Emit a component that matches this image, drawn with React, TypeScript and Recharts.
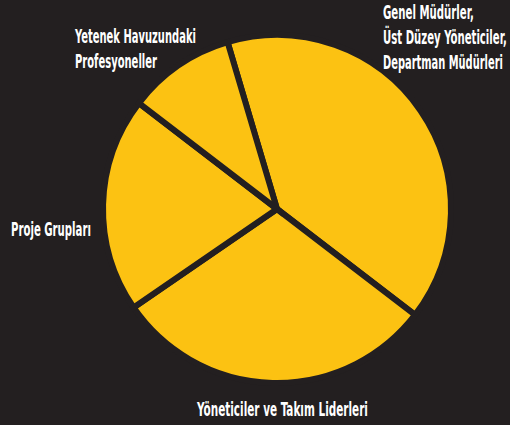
import { useLayoutEffect, useRef, useState } from "react";
import { Cell, Pie, PieChart } from "recharts";

const categories = [
  "Genel Müdürler, Üst Düzey Yöneticiler, Departman Müdürleri",
  "Yöneticiler ve Takım Liderleri",
  "Proje Grupları",
  "Yetenek Havuzundaki Profesyoneller",
];
const shares = [40, 30, 20, 10];

// label text lines per slice
const labelLines = [
  ["Genel Müdürler,", "Üst Düzey Yöneticiler,", "Departman Müdürleri"],
  ["Yöneticiler ve Takım Liderleri"],
  ["Proje Grupları"],
  ["Yetenek Havuzundaki", "Profesyoneller"],
];

const BG = "#231f20";
const YELLOW = "#fcc212";
const WIDTH = 510;
const HEIGHT = 425;

// where each label block starts (left x, first baseline) and target line widths
const labelLayout = [
  { x: 383, y: 19, widths: [91, 124, 120] },
  { x: 197, y: 416, widths: [171] },
  { x: 11, y: 236, widths: [80] },
  { x: 75, y: 43, widths: [121, 82] },
];

const data = categories.map((name, i) => ({ name, value: shares[i] }));

// condensed look: draw the text, measure it, then squeeze it to the wanted width
function NarrowText({ x, y, width, children }: { x: number; y: number; width: number; children: string }) {
  const ref = useRef<SVGTextElement>(null);
  const [sx, setSx] = useState(1);

  useLayoutEffect(() => {
    if (!ref.current) return;
    const natural = ref.current.getComputedTextLength();
    if (natural > 0) setSx(width / natural);
  }, [width, children]);

  return (
    <text
      ref={ref}
      transform={`translate(${x},${y}) scale(${sx},1)`}
      fill="#ffffff"
      fontFamily="'Liberation Sans Narrow', 'DejaVu Sans Condensed', sans-serif"
      fontWeight="bold"
      fontSize={19}
      textAnchor="start"
    >
      {children}
    </text>
  );
}

function renderLabel(props: any) {
  const i = props.index as number;
  const layout = labelLayout[i];
  return (
    <g key={`lbl-${i}`}>
      {labelLines[i].map((line, j) => (
        <NarrowText key={j} x={layout.x} y={layout.y + j * 25} width={layout.widths[j]}>
          {line}
        </NarrowText>
      ))}
    </g>
  );
}

export default function App() {
  return (
    <div style={{ position: "fixed", left: 0, top: 0, width: WIDTH, height: HEIGHT, background: BG }}>
      <PieChart width={WIDTH} height={HEIGHT} margin={{ top: 0, right: 0, bottom: 0, left: 0 }}>
        <Pie
          data={data}
          dataKey="value"
          nameKey="name"
          cx={277}
          cy={209}
          outerRadius={174}
          startAngle={106.5}
          endAngle={-253.5}
          stroke={BG}
          strokeWidth={6}
          label={renderLabel}
          labelLine={false}
          isAnimationActive={false}
        >
          {data.map((d) => (
            <Cell key={d.name} fill={YELLOW} />
          ))}
        </Pie>
      </PieChart>
    </div>
  );
}
